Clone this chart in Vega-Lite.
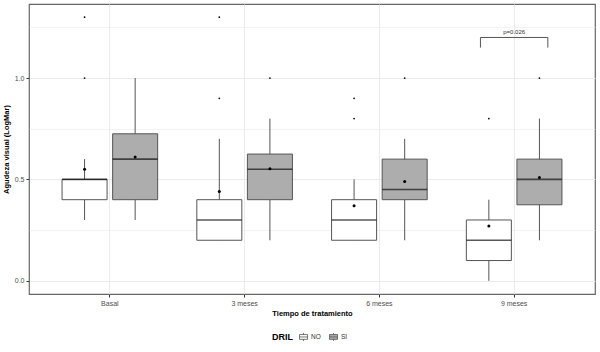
{
  "$schema": "https://vega.github.io/schema/vega-lite/v6.json",
  "width": 566,
  "height": 290,
  "autosize": {"type": "none"},
  "padding": {"left": 29, "top": 4, "right": 5, "bottom": 58},
  "background": "white",
  "config": {
    "font": "Liberation Sans",
    "view": {"stroke": "#666666", "strokeWidth": 1.2}
  },
  "datasets": {
    "boxes": [
      {"tiempo": "Basal", "DRIL": "NO", "lo": 0.3, "q1": 0.4, "med": 0.5, "q3": 0.5, "hi": 0.6, "media": 0.55},
      {"tiempo": "Basal", "DRIL": "SI", "lo": 0.3, "q1": 0.4, "med": 0.6, "q3": 0.725, "hi": 1.0, "media": 0.61},
      {"tiempo": "3 meses", "DRIL": "NO", "lo": 0.2, "q1": 0.2, "med": 0.3, "q3": 0.4, "hi": 0.7, "media": 0.44},
      {"tiempo": "3 meses", "DRIL": "SI", "lo": 0.2, "q1": 0.4, "med": 0.55, "q3": 0.625, "hi": 0.8, "media": 0.553},
      {"tiempo": "6 meses", "DRIL": "NO", "lo": 0.2, "q1": 0.2, "med": 0.3, "q3": 0.4, "hi": 0.5, "media": 0.37},
      {"tiempo": "6 meses", "DRIL": "SI", "lo": 0.2, "q1": 0.4, "med": 0.45, "q3": 0.6, "hi": 0.7, "media": 0.49},
      {"tiempo": "9 meses", "DRIL": "NO", "lo": 0.0, "q1": 0.1, "med": 0.2, "q3": 0.3, "hi": 0.4, "media": 0.27},
      {"tiempo": "9 meses", "DRIL": "SI", "lo": 0.2, "q1": 0.375, "med": 0.5, "q3": 0.6, "hi": 0.8, "media": 0.51}
    ],
    "outliers": [
      {"tiempo": "Basal", "DRIL": "NO", "v": 1.0},
      {"tiempo": "Basal", "DRIL": "NO", "v": 1.3},
      {"tiempo": "3 meses", "DRIL": "NO", "v": 0.9},
      {"tiempo": "3 meses", "DRIL": "NO", "v": 1.3},
      {"tiempo": "3 meses", "DRIL": "SI", "v": 1.0},
      {"tiempo": "6 meses", "DRIL": "NO", "v": 0.8},
      {"tiempo": "6 meses", "DRIL": "NO", "v": 0.9},
      {"tiempo": "6 meses", "DRIL": "SI", "v": 1.0},
      {"tiempo": "9 meses", "DRIL": "NO", "v": 0.8},
      {"tiempo": "9 meses", "DRIL": "SI", "v": 1.0}
    ],
    "sig": [
      {"tiempo": "9 meses", "top": 1.2, "foot": 1.15, "ty": 1.228, "label": "p=0.026"}
    ]
  },
  "encoding": {
    "x": {
      "field": "tiempo",
      "type": "nominal",
      "sort": ["Basal", "3 meses", "6 meses", "9 meses"],
      "scale": {"domain": ["Basal", "3 meses", "6 meses", "9 meses"], "paddingInner": 0, "paddingOuter": 0.1},
      "axis": {
        "title": "Tiempo de tratamiento",
        "labelAngle": 0,
        "bandPosition": 0.5,
        "grid": true,
        "gridColor": "#ebebeb",
        "gridWidth": 1,
        "domain": false,
        "tickColor": "#333333",
        "tickSize": 3,
        "labelFontSize": 7,
        "labelColor": "#4d4d4d",
        "labelPadding": 2,
        "titleFontSize": 7.5,
        "titleFontWeight": "bold",
        "titleColor": "#000000",
        "titlePadding": 3
      }
    }
  },
  "layer": [
    {
      "data": {"name": "boxes"},
      "mark": {"type": "rule", "color": "#555555", "strokeWidth": 1},
      "encoding": {
        "xOffset": {"field": "DRIL", "type": "nominal", "scale": {"domain": ["NO", "SI"], "paddingInner": 0.11, "paddingOuter": 0.387}},
        "y": {
          "field": "lo",
          "type": "quantitative",
          "scale": {"domain": [-0.065, 1.365], "nice": false, "zero": false},
          "axis": {
            "title": "Agudeza visual (LogMar)",
            "values": [0, 0.25, 0.5, 0.75, 1.0, 1.25],
            "labelExpr": "datum.value % 0.5 == 0 ? format(datum.value, '.1f') : ''",
            "grid": true,
            "gridColor": "#ebebeb",
            "gridWidth": {"condition": {"test": "datum.value % 0.5 == 0", "value": 1}, "value": 0.6},
            "tickOpacity": {"condition": {"test": "datum.value % 0.5 == 0", "value": 1}, "value": 0},
            "domain": false,
            "tickColor": "#333333",
            "tickSize": 3,
            "labelFontSize": 7,
            "labelColor": "#4d4d4d",
            "labelPadding": 2,
            "titleFontSize": 7.5,
            "titleFontWeight": "bold",
            "titleColor": "#000000",
            "titlePadding": 4
          }
        },
        "y2": {"field": "hi"}
      }
    },
    {
      "data": {"name": "boxes"},
      "mark": {"type": "bar", "stroke": "#555555", "strokeWidth": 1},
      "encoding": {
        "xOffset": {"field": "DRIL", "type": "nominal"},
        "y": {"field": "q1", "type": "quantitative"},
        "y2": {"field": "q3"},
        "fill": {
          "field": "DRIL",
          "type": "nominal",
          "scale": {"domain": ["NO", "SI"], "range": ["#ffffff", "#adadad"]},
          "legend": {
            "title": "DRIL",
            "orient": "none",
            "legendX": 243,
            "legendY": 328,
            "direction": "horizontal",
            "titleOrient": "left",
            "titleFontSize": 9,
            "titleFontWeight": "bold",
            "titleColor": "#000000",
            "titlePadding": 6,
            "labelFontSize": 6.5,
            "labelColor": "#333333",
            "labelOffset": 3,
            "columnPadding": 6,
            "symbolType": "M-1,-0.6L1,-0.6L1,0.6L-1,0.6Z M-1,0L1,0 M0,-0.6L0,-1 M0,0.6L0,1",
            "symbolSize": 64,
            "symbolStrokeColor": "#555555",
            "symbolStrokeWidth": 0.8
          }
        }
      }
    },
    {
      "data": {"name": "boxes"},
      "mark": {"type": "tick", "color": "#111111", "thickness": 1.6, "size": 45, "orient": "horizontal"},
      "encoding": {
        "xOffset": {"field": "DRIL", "type": "nominal"},
        "y": {"field": "med", "type": "quantitative"}
      }
    },
    {
      "data": {"name": "boxes"},
      "mark": {"type": "point", "filled": true, "color": "#000000", "size": 9, "opacity": 1, "shape": "circle"},
      "encoding": {
        "xOffset": {"field": "DRIL", "type": "nominal"},
        "y": {"field": "media", "type": "quantitative"}
      }
    },
    {
      "data": {"name": "outliers"},
      "mark": {"type": "point", "filled": true, "color": "#000000", "size": 3, "opacity": 1},
      "encoding": {
        "xOffset": {"field": "DRIL", "type": "nominal"},
        "y": {"field": "v", "type": "quantitative"}
      }
    },
    {
      "data": {"name": "sig"},
      "mark": {"type": "rule", "color": "#555555", "strokeWidth": 1},
      "encoding": {
        "x": {"field": "tiempo", "type": "nominal", "bandPosition": 0.25},
        "x2": {"field": "tiempo", "bandPosition": 0.75},
        "y": {"field": "top", "type": "quantitative"}
      }
    },
    {
      "data": {"name": "sig"},
      "mark": {"type": "rule", "color": "#555555", "strokeWidth": 1},
      "encoding": {
        "x": {"field": "tiempo", "type": "nominal", "bandPosition": 0.25},
        "y": {"field": "top", "type": "quantitative"},
        "y2": {"field": "foot"}
      }
    },
    {
      "data": {"name": "sig"},
      "mark": {"type": "rule", "color": "#555555", "strokeWidth": 1},
      "encoding": {
        "x": {"field": "tiempo", "type": "nominal", "bandPosition": 0.75},
        "y": {"field": "top", "type": "quantitative"},
        "y2": {"field": "foot"}
      }
    },
    {
      "data": {"name": "sig"},
      "mark": {"type": "text", "fontSize": 6, "color": "#333333", "baseline": "middle", "align": "center"},
      "encoding": {
        "x": {"field": "tiempo", "type": "nominal", "bandPosition": 0.5},
        "y": {"field": "ty", "type": "quantitative"},
        "text": {"field": "label"}
      }
    }
  ]
}
